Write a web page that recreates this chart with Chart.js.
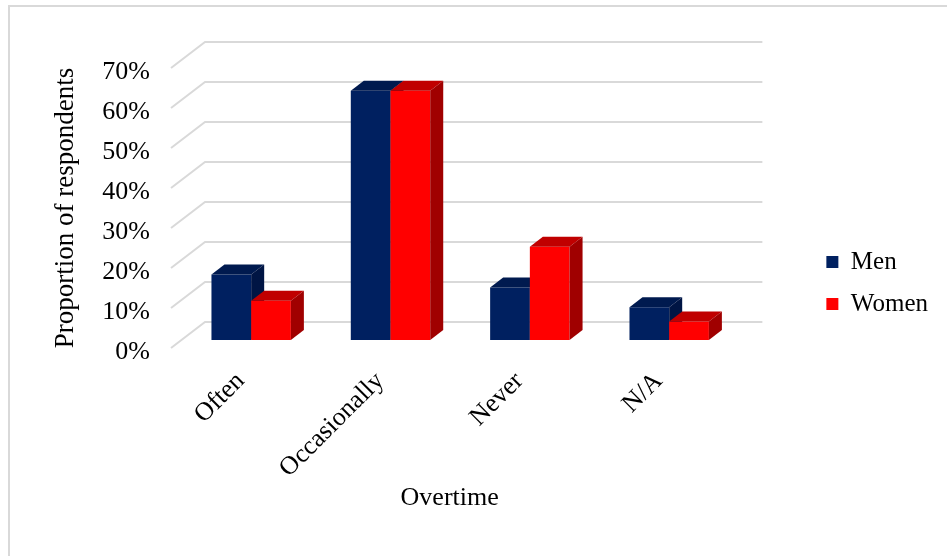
<!DOCTYPE html>
<html>
<head>
<meta charset="utf-8">
<title>Overtime</title>
<script src="https://cdn.jsdelivr.net/npm/chart.js@4/dist/chart.umd.min.js"></script>
<style>
  html, body { margin: 0; padding: 0; background: #fff; }
  #wrap { position: relative; width: 947px; height: 556px; overflow: hidden; }
  #frame {
    position: absolute; left: 8px; top: 5px; width: 960px; height: 570px;
    border-top: 2px solid #d9d9d9; border-left: 2px solid #d9d9d9;
  }
  #chart { position: absolute; left: 0; top: 0; }
</style>
</head>
<body>
<div id="wrap">
  <div id="frame"></div>
  <canvas id="chart" width="947" height="556"></canvas>
</div>
<script>
// Chart data
const categories = ['Often', 'Occasionally', 'Never', 'N/A'];
const men = [16.4, 62.3, 13.1, 8.2];
const women = [9.8, 62.3, 23.3, 4.6];
const seriesNames = ['Men', 'Women'];
const yTicks = [0, 10, 20, 30, 40, 50, 60, 70];

const FONT = "'Liberation Serif', 'Times New Roman', serif";

// Fake 3D geometry (pixels)
const WALL = { x: 34, y: -26 };   // front edge -> back wall
const SHIFT = { x: 10.5, y: -8 }; // bars sit a bit behind the front edge
const DEPTH = { x: 13, y: -10 };  // bar thickness

const colors = {
  front: ['#002060', '#ff0000'],
  top: ['#001a4f', '#c00000'],
  side: ['#001544', '#a00000'],
  grid: '#d9d9d9'
};

Chart.defaults.font.family = FONT;
Chart.defaults.color = '#000';

function drawBox(ctx, el, i) {
  const { x, y, base, width } = el.getProps(['x', 'y', 'base', 'width'], true);
  const l = x - width / 2;
  const r = x + width / 2;

  el.draw(ctx);

  // top face
  ctx.fillStyle = colors.top[i];
  ctx.beginPath();
  ctx.moveTo(l, y);
  ctx.lineTo(l + DEPTH.x, y + DEPTH.y);
  ctx.lineTo(r + DEPTH.x, y + DEPTH.y);
  ctx.lineTo(r, y);
  ctx.closePath();
  ctx.fill();

  // right side face
  ctx.fillStyle = colors.side[i];
  ctx.beginPath();
  ctx.moveTo(r, y);
  ctx.lineTo(r + DEPTH.x, y + DEPTH.y);
  ctx.lineTo(r + DEPTH.x, base + DEPTH.y);
  ctx.lineTo(r, base);
  ctx.closePath();
  ctx.fill();
}

const bars3d = {
  id: 'bars3d',
  beforeDatasetsDraw(chart) {
    const { ctx, chartArea, scales: { y } } = chart;
    ctx.save();
    ctx.strokeStyle = colors.grid;
    ctx.lineWidth = 2;
    y.ticks.forEach(t => {
      const py = y.getPixelForValue(t.value);
      ctx.beginPath();
      ctx.moveTo(chartArea.left, py);
      ctx.lineTo(chartArea.left + WALL.x, py + WALL.y);
      ctx.lineTo(chartArea.right + WALL.x, py + WALL.y);
      ctx.stroke();
    });
    ctx.restore();
  },
  // bars are drawn by hand below, in series order
  beforeDatasetDraw() {
    return false;
  },
  afterDatasetsDraw(chart) {
    const ctx = chart.ctx;
    ctx.save();
    ctx.translate(SHIFT.x, SHIFT.y);
    chart.data.datasets.forEach((ds, i) => {
      chart.getDatasetMeta(i).data.forEach(el => drawBox(ctx, el, i));
    });
    ctx.restore();
  }
};

new Chart(document.getElementById('chart'), {
  type: 'bar',
  data: {
    labels: categories,
    datasets: [
      { label: seriesNames[0], data: men, backgroundColor: colors.front[0], xAxisID: 'x', yAxisID: 'y' },
      { label: seriesNames[1], data: women, backgroundColor: colors.front[1], xAxisID: 'x', yAxisID: 'y' }
    ]
  },
  options: {
    responsive: false,
    animation: false,
    layout: { padding: { left: 50, top: 10, right: 9, bottom: 0 } },
    datasets: {
      bar: { categoryPercentage: 0.57, barPercentage: 1, borderWidth: 0 }
    },
    scales: {
      y: {
        position: 'left',
        min: 0,
        max: 70,
        afterBuildTicks: s => { s.ticks = yTicks.map(v => ({ value: v })); },
        afterFit: s => { s.width = 121; },
        grid: { display: false },
        border: { display: false },
        ticks: {
          padding: 13,
          labelOffset: 4,
          font: { size: 26 },
          callback: v => v + '%'
        },
        title: {
          display: true,
          text: 'Proportion of respondents',
          font: { size: 27 },
          padding: { top: 0, bottom: 0 }
        }
      },
      x: {
        position: 'bottom',
        afterFit: s => { s.height = 208; },
        grid: { display: false },
        border: { display: false },
        ticks: {
          minRotation: 45,
          maxRotation: 45,
          autoSkip: false,
          padding: 10,
          font: { size: 26 }
        },
        title: {
          display: true,
          text: 'Overtime',
          font: { size: 26 },
          padding: { top: 0, bottom: 42 }
        }
      },
      // spacers that keep the plot clear of the back wall and legend
      xTop: {
        position: 'top',
        afterFit: s => { s.height = 58; },
        grid: { display: false },
        border: { display: false },
        ticks: { display: false }
      },
      yRight: {
        position: 'right',
        afterFit: s => { s.width = 81; },
        grid: { display: false },
        border: { display: false },
        ticks: { display: false }
      }
    },
    plugins: {
      tooltip: { enabled: false },
      legend: {
        position: 'right',
        labels: {
          boxWidth: 12,
          boxHeight: 12,
          padding: 17,
          font: { size: 25 },
          color: '#000'
        }
      }
    }
  },
  plugins: [bars3d]
});
</script>
</body>
</html>
